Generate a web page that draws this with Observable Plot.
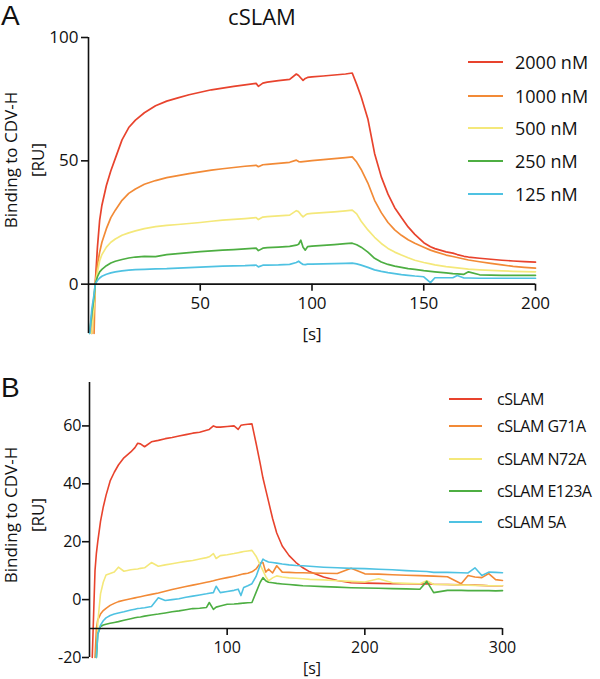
<!DOCTYPE html>
<html>
<head>
<meta charset="utf-8">
<script src="https://cdn.jsdelivr.net/npm/d3@7"></script>
<script src="https://cdn.jsdelivr.net/npm/@observablehq/plot@0.6"></script>
<style>
  body { margin: 0; background: #fff; }
  #fig { position: relative; width: 600px; height: 679px; font-family: "Open Sans", sans-serif; color: #111; overflow: hidden; background: #fff; }
  .abs { position: absolute; white-space: nowrap; }
  .panel-letter { position: absolute; font-family: "Liberation Sans", Arial, sans-serif; font-size: 28px; line-height: normal; }
  .ylab { position: absolute; white-space: nowrap; text-align: center; transform: translate(-50%, -50%) rotate(-90deg); font-size: 17px; line-height: 27px; }
  .leg { position: absolute; display: flex; align-items: center; white-space: nowrap; }
</style>
</head>
<body>
<div id="fig">
  <div id="pa" class="abs" style="left:0;top:0"></div>
  <div id="pb" class="abs" style="left:0;top:340px"></div>
  <div class="panel-letter" style="left:1px;top:0px">A</div>
  <div class="panel-letter" style="left:1px;top:372px">B</div>
  <div class="abs" style="left:262px;top:16px;font-size:22px;transform:translate(-50%,-50%)">cSLAM</div>
  <div class="ylab" style="left:24px;top:160px">Binding to CDV-H<br>[RU]</div>
  <div class="ylab" style="left:24px;top:515px">Binding to CDV-H<br>[RU]</div>
</div>
<script>
// ---------- series names, colours, ticks ----------
const seriesA = ["2000 nM", "1000 nM", "500 nM", "250 nM", "125 nM"];
const seriesB = ["cSLAM", "cSLAM G71A", "cSLAM N72A", "cSLAM E123A", "cSLAM 5A"];
const colors = ["#e8432d", "#f28a36", "#f4e87a", "#4dae42", "#4fc2e2"];

const xTicksA = [50, 100, 150, 200];
const yTicksA = [0, 50, 100];
const xTicksB = [100, 200, 300];
const yTicksB = [-20, 0, 20, 40, 60];

// ---------- Panel A data ----------
const tA = [0.5, 1.5, 2.5, 3, 4, 5, 6, 8, 10, 12,
  15, 18, 21, 25, 30, 35, 40, 45, 50, 55,
  60, 65, 70, 75, 76, 78, 80, 85, 90, 93,
  94, 95, 96, 97, 98, 100, 105, 110, 115, 118,
  120, 122, 125, 128, 131, 134, 137, 140, 143, 146,
  150, 153, 155, 160, 163, 165, 168, 170, 175, 180,
  185, 190, 195, 200];

const a2000 = [null, -20, -8, 0, 15, 26, 32, 40, 46, 51,
  58.5, 63.5, 66.5, 69.5, 72.3, 74.2, 75.5, 76.8, 77.8, 78.8,
  79.5, 80.2, 80.8, 81.4, 80.2, 81.5, 81.9, 82.5, 83, 85.2,
  84.6, 83.6, 82.6, 83.4, 83.8, 84, 84.4, 84.8, 85.2, 85.6,
  81, 76, 67, 53, 43.5, 36.5, 31, 27, 23.2, 20.2,
  16.8, 15.2, 14.4, 13.1, 12.6, 12.0, 11.3, 11, 10.5, 10.1,
  9.7, 9.4, 9.1, 8.9];

const a1000 = [null, null, -20, 0, 8, 13, 17, 22.5, 27, 30,
  34, 36.8, 38.6, 40.5, 42, 43.2, 44, 44.8, 45.5, 46.2,
  46.8, 47.3, 47.8, 48.2, 47.6, 48.4, 48.6, 49, 49.4, 50.3,
  49.7, 49.6, 49.7, 49.8, 49.9, 50.1, 50.5, 50.9, 51.3, 51.6,
  49.5, 46.5, 41, 34, 29, 25, 22, 19.8, 18, 16.6,
  15, 13.8, 13.2, 11.8, 11.2, 10.8, 10.2, 9.8, 9.1, 8.4,
  7.8, 7.2, 6.8, 6.5];

const a500 = [null, -20, -9, 0, 5, 9.5, 12, 15, 17, 18.3,
  19.8, 20.8, 21.6, 22.5, 23.3, 23.8, 24.2, 24.6, 25, 25.5,
  26, 26.3, 26.6, 27, 26.2, 27.2, 27.4, 27.7, 28, 29.8,
  29.4, 28.2, 27.3, 28, 28.5, 28.7, 29, 29.3, 29.7, 30,
  28.5, 25.5, 22, 19, 16.5, 14.5, 13, 11.8, 10.7, 9.7,
  8.8, 8.2, 7.8, 7.1, 6.8, 6.6, 6.3, 6.1, 5.8, 5.6,
  5.4, 5.2, 5.1, 5];

const a250 = [-20, -12, -5, 0, 3, 5, 6, 7.5, 8.6, 9.3,
  10, 10.6, 11, 11.3, 11.2, 12, 12.4, 12.8, 13.2, 13.5,
  13.8, 14, 14.3, 14.6, 13.6, 14.6, 14.8, 15, 15.3, 15.8,
  16.2, 17.8, 15, 13.8, 15.2, 15.4, 15.7, 16, 16.4, 16.6,
  16, 15, 13, 10.5, 9, 8, 7.3, 6.8, 6.3, 6,
  5.5, 5.2, 5, 4.6, 4.3, 4.2, 4.0, 5.0, 3.8, 3.7,
  3.6, 3.6, 3.6, 3.6];

const a125 = [-20, -10, -4, 0, 1.5, 2.5, 3.2, 4, 4.6, 5,
  5.4, 5.7, 5.9, 6, 6.2, 6.3, 6.5, 6.7, 6.9, 7.1,
  7.3, 7.4, 7.5, 7.7, 7.0, 7.7, 7.7, 7.8, 8, 8.8,
  9.3, 8.6, 8.0, 7.9, 8.1, 8.1, 8.2, 8.3, 8.4, 8.5,
  8.2, 7.7, 6.8, 5.8, 5.2, 4.7, 4.3, 3.9, 3.6, 3.3,
  3, 0.6, 2.6, 2.6, 2.6, 3.5, 2.5, 2.5, 2.4, 2.4,
  2.4, 2.4, 2.4, 2.4];

// ---------- Panel B data ----------
const tB = [2, 3, 4, 5, 6, 8, 10, 12, 15, 18,
  21, 25, 30, 33, 35, 37, 40, 45, 50, 55,
  60, 65, 70, 75, 80, 85, 87, 90, 92, 95,
  100, 105, 108, 110, 112, 115, 118, 121, 124, 126,
  128, 130, 133, 136, 140, 145, 150, 155, 160, 170,
  180, 190, 200, 210, 220, 230, 240, 245, 250, 260,
  270, 275, 280, 285, 290, 295, 300];

const bWT = [-20, -5, 10, 16, 20, 27, 32, 36, 41, 44,
  46.5, 49, 51, 52.5, 54, 53.8, 52.8, 54.5, 55, 55.6,
  56, 56.5, 57, 57.5, 57.8, 58.5, 58.8, 60, 59.6, 59.6,
  59.8, 60, 58.8, 60.2, 60.4, 60.6, 60.7, 54, 47, 42,
  38, 34, 28, 23, 18.5, 15.2, 12.8, 11, 9.6, 7.8,
  6.6, 5.8, 5.7, 5.6, 5.5, 5.5, 5.4, 5.5, 5.3, 5.2,
  5.1, 5.0, 5.0, 4.9, 4.8, 4.8, 4.8];

const bG71A = [null, null, -20, -10, -7, -5, -3.8, -3, -2, -1.3,
  -0.7, -0.2, 0.3, 0.6, 0.8, 1, 1.3, 1.8, 2.3, 2.9,
  3.5, 4, 4.5, 5, 5.5, 6, 6.2, 6.5, 6.8, 7.1,
  7.6, 8.1, 8.4, 8.7, 8.9, 9.1, 9.6, 10.6, 12.6, 12.8,
  9.5, 10.5, 9.2, 11.7, 9.5, 9.4, 9.3, 9.3, 9.2, 9.1,
  9.0, 10.8, 8.9, 8.8, 8.6, 8.4, 8.3, 8.2, 8.1, 7.9,
  5.5, 8.3, 7.8, 7.6, 9.0, 6.9, 6.6];

const bN72A = [null, null, null, -20, -8, 2, 6, 8.5, 9, 9.5,
  11.2, 9.8, 10.3, 10.5, 10.6, 10.8, 11, 12.8, 11.5, 12,
  12.4, 12.8, 13.2, 13.5, 14, 14.5, 14.8, 15.9, 14.2, 15.2,
  15.5, 15.9, 16.2, 16.4, 16.6, 16.8, 17, 15, 12, 10,
  8, 6.5, 7.5, 8.2, 7.8, 7.5, 7.4, 7.2, 7, 6.8,
  6.5, 6.3, 6.1, 7.2, 5.8, 5.6, 5.5, 6.5, 5.2, 5.2,
  5.0, 5.0, 4.9, 4.9, 4.8, 4.8, 4.8];

const bE123A = [null, null, null, -20, -12, -9.3, -8.8, -8.5, -8.2, -7.9,
  -7.6, -7.1, -6.6, -6.3, -6.1, -6, -5.7, -5.3, -5, -4.6,
  -4.2, -3.9, -3.5, -3.1, -3.0, -2.7, -1, -3.4, -2.6, -2.2,
  -1.6, -1.5, -1.4, -1.3, -1.2, -1.1, -1, 2.5, 6, 7.6,
  6.5, 6, 5.8, 5.6, 5.4, 5.2, 5, 4.8, 4.7, 4.5,
  4.3, 4.1, 4, 3.9, 3.8, 3.7, 3.6, 6.3, 2.4, 3.2,
  3.2, 3.1, 3.1, 3.1, 3.1, 3.0, 3.1];

const b5A = [null, null, null, -20, -12, -8.8, -7.3, -6.3, -5.5, -5,
  -4.6, -4.2, -3.6, -3.3, -3.1, -3, -2.8, -2.4, 0.6, -0.3,
  0, 0.3, 0.8, 1.2, 1.6, 2, 2.2, 2.4, 4.6, 2.4,
  2.8, 3.2, 3.6, 1.4, 4.2, 4.8, 5.5, 8, 12, 14,
  13.4, 13, 12.8, 12.6, 12.3, 12, 11.8, 11.7, 11.5, 11.2,
  11, 10.8, 10.7, 10.5, 10.3, 10, 9.8, 9.7, 9.4, 9.4,
  9.3, 9.2, 11, 8.3, 9.5, 9.4, 9.3];

// ---------- build long tables ----------
function toRows(times, arrays, names) {
  const rows = [];
  arrays.forEach((arr, k) => {
    arr.forEach((v, i) => {
      if (v !== null) rows.push({ t: times[i], v, s: names[k] });
    });
  });
  return rows;
}
const rowsA = toRows(tA, [a2000, a1000, a500, a250, a125], seriesA);
const rowsB = toRows(tB, [bWT, bG71A, bN72A, bE123A, b5A], seriesB);

const axisStroke = "#111";

// ---------- Panel A ----------
const plotA = Plot.plot({
  width: 600, height: 352,
  marginTop: 37, marginLeft: 88, marginRight: 65, marginBottom: 19,
  style: { fontFamily: "Open Sans, sans-serif", fontSize: "17px", color: "#111", background: "none", overflow: "visible" },
  x: { domain: [0, 200], axis: null },
  y: { domain: [-20, 100], axis: null },
  color: { domain: seriesA, range: colors },
  marks: [
    Plot.line(rowsA, { x: "t", y: "v", z: "s", stroke: "s", strokeWidth: 1.7 }),
    Plot.ruleY([0], { stroke: axisStroke, strokeWidth: 1.6 }),
    Plot.ruleX([0], { y1: -20, y2: 100, stroke: axisStroke, strokeWidth: 1.6 }),
    Plot.ruleY(yTicksA, { y: d => d, x1: 0, x2: 0, insetLeft: -7, stroke: axisStroke, strokeWidth: 1.6 }),
    Plot.text(yTicksA, { y: d => d, x: 0, dx: -10, textAnchor: "end", text: d => String(d), fontSize: 17 }),
    Plot.ruleX(xTicksA, { x: d => d, y1: 0, y2: 0, insetBottom: -7, stroke: axisStroke, strokeWidth: 1.6 }),
    Plot.text(xTicksA, { x: d => d, y: 0, dy: 19, text: d => String(d), fontSize: 17 }),
    Plot.text(["[s]"], { frameAnchor: "bottom", lineAnchor: "middle", dy: 1, text: d => d, fontSize: 17 })
  ]
});
document.getElementById("pa").appendChild(plotA);

// ---------- Panel B ----------
const plotB = Plot.plot({
  width: 600, height: 339,
  marginTop: 42, marginLeft: 89, marginRight: 98, marginBottom: 22,
  style: { fontFamily: "Open Sans, sans-serif", fontSize: "16px", color: "#111", background: "none" },
  x: { domain: [0, 300], axis: null },
  y: { domain: [-20, 75], axis: null },
  color: { domain: seriesB, range: colors },
  marks: [
    Plot.line(rowsB, { x: "t", y: "v", z: "s", stroke: "s", strokeWidth: 1.6 }),
    Plot.ruleY([-10], { stroke: axisStroke, strokeWidth: 1.6 }),
    Plot.ruleX([0], { y1: -20, y2: 75, stroke: axisStroke, strokeWidth: 1.6 }),
    Plot.ruleY(yTicksB, { y: d => d, x1: 0, x2: 0, insetLeft: -7, stroke: axisStroke, strokeWidth: 1.6 }),
    Plot.text(yTicksB, { y: d => d, x: 0, dx: -8, textAnchor: "end", text: d => String(d), fontSize: 16 }),
    Plot.ruleX(xTicksB, { x: d => d, y1: -10, y2: -10, insetBottom: -7, stroke: axisStroke, strokeWidth: 1.6 }),
    Plot.text(xTicksB, { x: d => d, y: -10, dy: 19, text: d => String(d), fontSize: 16 }),
    Plot.text(["[s]"], { frameAnchor: "bottom", lineAnchor: "middle", dx: 16, dy: 11, text: d => d, fontSize: 16 })
  ]
});
document.getElementById("pb").appendChild(plotB);

// ---------- Legends ----------
const fig = document.getElementById("fig");
function addLegend(names, ys, left, lineW, gap, fontSize, ls) {
  names.forEach((n, i) => {
    const d = document.createElement("div");
    d.className = "leg";
    d.style.left = left + "px";
    d.style.top = (ys[i] - 12) + "px";
    d.style.height = "24px";
    d.style.fontSize = fontSize + "px";
    d.style.letterSpacing = ls;
    d.innerHTML = `<svg width="${lineW}" height="24" style="margin-right:${gap}px"><line x1="0" x2="${lineW}" y1="12" y2="12" stroke="${colors[i]}" stroke-width="2"/></svg><span>${n}</span>`;
    fig.appendChild(d);
  });
}
addLegend(seriesA, [62, 96, 128, 161, 194], 468, 35, 12, 18, "0px");
addLegend(seriesB, [399, 426, 459, 491, 522], 449, 33, 15, 16, "-0.5px");
</script>
</body>
</html>
